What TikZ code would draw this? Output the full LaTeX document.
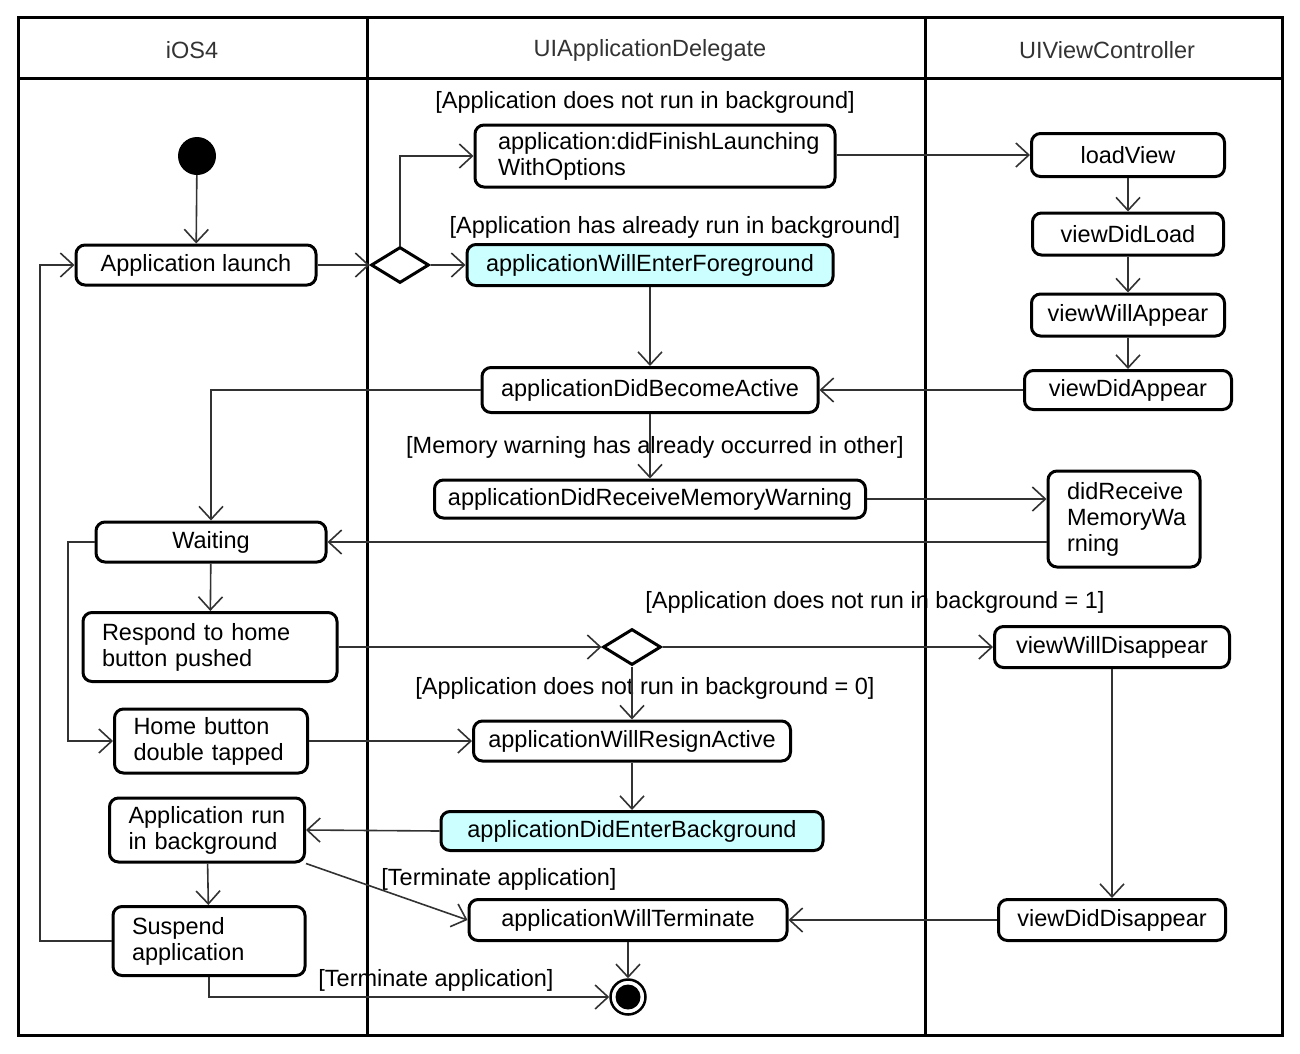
\documentclass[tikz,border=0pt]{standalone}
\usepackage{fontspec}
\setmainfont{Liberation Sans}
\usetikzlibrary{arrows.meta,shapes.geometric}
\definecolor{lcyan}{RGB}{204,255,255}
\definecolor{linec}{RGB}{50,50,50}
\begin{document}
\begin{tikzpicture}[x=1pt,y=-1pt,
  font=\fontsize{23.5}{26}\selectfont,
  act/.style={draw, line width=3pt, rounded corners=9pt, fill=white, inner sep=0pt, align=center},
  cact/.style={act, fill=lcyan},
  lact/.style={act, align=left, inner xsep=19pt},
  arr/.style={draw=linec, line width=1.6pt, -{Straight Barb[length=13pt,width=24pt,line width=1.6pt]}},
  lane/.style={line width=3pt},
  guard/.style={inner sep=0pt},
  title/.style={inner sep=0pt, text=black!80},
  dec/.style={diamond, draw, line width=3pt, fill=white, inner sep=0pt, minimum width=58pt, minimum height=36pt},
]
\useasboundingbox (0,0) rectangle (1300,1053);
% frame and swimlanes
\draw[lane] (18,17) rectangle (1282,1035);
\draw[lane] (18,78) -- (1282,78);
\draw[lane] (367,17) -- (367,1035);
\draw[lane] (925,17) -- (925,1035);
\node[title] (t1) at (192,50) {iOS4};
\node[title] (t2) at (650,50) {UIApplicationDelegate};
\node[title] (t3) at (1107,50) {UIViewController};

% guards
\node[guard] (g1) at (645,102) {[Application does not run in background]};
\node[guard] (g2) at (675,227) {[Application has already run in background]};
\node[guard] (g3) at (655,447) {[Memory warning has already occurred in other]};
\node[guard] (g4) at (875,602) {[Application does not run in background = 1]};
\node[guard] (g5) at (645,688) {[Application does not run in background = 0]};
\node[guard] (g6) at (499,879) {[Terminate application]};
\node[guard] (g7) at (436,980) {[Terminate application]};

% iOS4 lane
\node[circle, fill=black, minimum size=38pt, inner sep=0pt] (init) at (197,156) {};
\node[act, minimum width=240pt, minimum height=40pt] (launch) at (196,265) {Application launch};
\node[act, minimum width=230pt, minimum height=40pt] (wait) at (211,542) {Waiting};
\node[lact, text width=216pt, minimum height=69pt] (resp) at (210,647) {Respond to home\\button pushed};
\node[lact, text width=155pt, minimum height=64pt] (home) at (211,741) {Home button\\double tapped};
\node[lact, text width=157pt, minimum height=64pt] (arb) at (207,830) {Application run\\in background};
\node[lact, text width=154pt, minimum height=69pt] (susp) at (209,941) {Suspend\\application};

% delegate lane
\node[dec] (dec1) at (400,265) {};
\node[act, align=left, inner xsep=23pt, text width=314pt, minimum height=62pt] (dfl) at (655,156) {application:didFinishLaunching\\WithOptions};
\node[cact, minimum width=366pt, minimum height=41pt] (wef) at (650,265) {applicationWillEnterForeground};
\node[act, minimum width=336pt, minimum height=45pt] (adba) at (650,390) {applicationDidBecomeActive};
\node[act, minimum width=431pt, minimum height=38pt] (admw) at (650,499) {applicationDidReceiveMemoryWarning};
\node[dec] (dec2) at (632,647) {};
\node[act, minimum width=317pt, minimum height=40pt] (resign) at (632,741) {applicationWillResignActive};
\node[cact, minimum width=382pt, minimum height=39pt] (deb) at (632,831) {applicationDidEnterBackground};
\node[act, minimum width=318pt, minimum height=41pt] (awt) at (628,920) {applicationWillTerminate};
\node[circle, draw, line width=2.5pt, fill=white, minimum size=35pt, inner sep=0pt] (fin) at (628,997) {};
\fill[black] (fin.center) circle (12.5);

% view controller lane
\node[act, minimum width=193pt, minimum height=43pt] (lv) at (1128,155) {loadView};
\node[act, minimum width=191pt, minimum height=42pt] (vdl) at (1128,234) {viewDidLoad};
\node[act, minimum width=193pt, minimum height=42pt] (vwa) at (1128,315) {viewWillAppear};
\node[act, minimum width=207pt, minimum height=39pt] (vda) at (1128,390) {viewDidAppear};
\node[lact, text width=114pt, minimum height=96pt] (drm) at (1124,519) {didReceive\\MemoryWa\\rning};
\node[act, minimum width=235pt, minimum height=41pt] (vwd) at (1112,647) {viewWillDisappear};
\node[act, minimum width=227pt, minimum height=41pt] (vdd) at (1112,920) {viewDidDisappear};

\coordinate (loopx) at (40,0);
\coordinate (waitx) at (68,0);

% connectors
\draw[arr] (init) -- (launch);
\draw[arr] (launch.east) -- (dec1.west);
\draw[arr] (dec1.north) |- (dfl.west);
\draw[arr] (dec1.east) -- (wef.west);
\draw[arr] (dfl.east |- lv.west) -- (lv.west);
\draw[arr] (lv) -- (vdl);
\draw[arr] (vdl) -- (vwa);
\draw[arr] (vwa) -- (vda);
\draw[arr] (vda) -- (adba);
\draw[arr] (wef) -- (adba);
\draw[arr] (adba.west) -| (wait.north);
\draw[arr] (adba) -- (admw);
\draw[arr] (admw.east) -- (admw.east -| drm.west);
\draw[arr] (drm.west |- wait.east) -- (wait.east);
\draw[arr] (wait) -- (resp);
\draw[arr] (wait.west) -- (wait.west -| waitx) |- (home.west);
\draw[arr] (resp.east) -- (dec2.west);
\draw[arr] (dec2.east) -- (vwd.west);
\draw[arr] (dec2.south) -- (resign.north);
\draw[arr] (home.east) -- (resign.west);
\draw[arr] (resign) -- (deb);
\draw[arr] (deb.west) -- (arb.east);
\draw[arr] (arb) -- (susp);
\draw[arr] (arb.south east) -- (awt.west);
\draw[arr] (susp.west) -- (susp.west -| loopx) |- (launch.west);
\draw[arr] (susp.south) |- (fin.west);
\draw[arr] (vwd) -- (vdd);
\draw[arr] (vdd) -- (awt);
\draw[arr] (awt) -- (fin);
\end{tikzpicture}
\end{document}
